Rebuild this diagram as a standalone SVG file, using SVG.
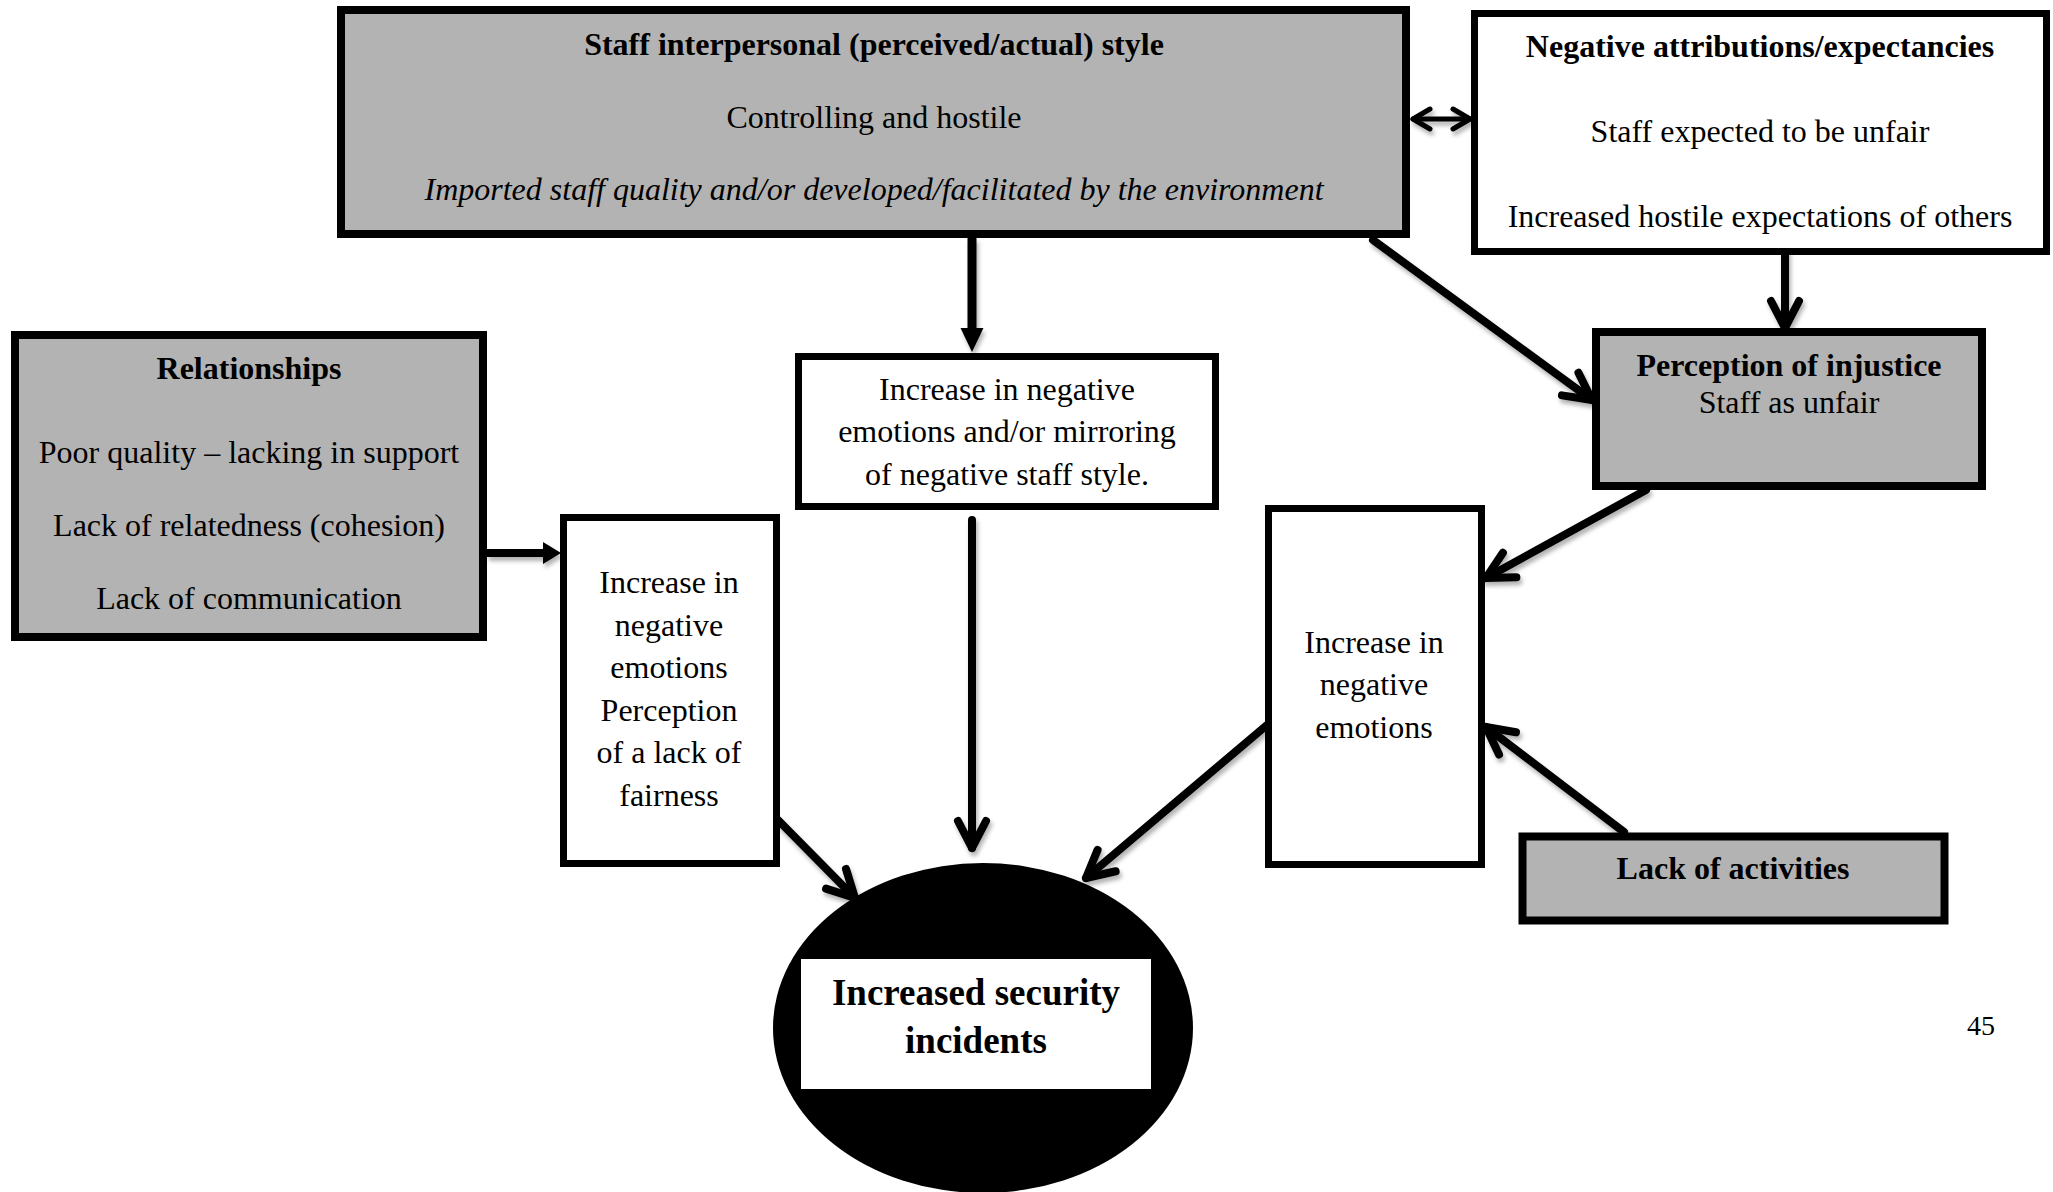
<svg xmlns="http://www.w3.org/2000/svg" width="2053" height="1192" viewBox="0 0 2053 1192">
<style>
  text { font-family: "Liberation Serif", "Times New Roman", serif; font-size: 32px; fill: #000; text-anchor: middle; }
  .b { font-weight: bold; }
  .i { font-style: italic; }
  .grey { fill: #b3b3b3; stroke: #000; stroke-width: 8; }
  .white { fill: #fff; stroke: #000; stroke-width: 7; }
  .conn { fill: none; stroke: #000; stroke-width: 8; stroke-linecap: round; }
</style>
<defs>
  <filter id="sh" filterUnits="userSpaceOnUse" x="0" y="0" width="2053" height="1192">
    <feDropShadow dx="2" dy="4" stdDeviation="2" flood-color="#000" flood-opacity="0.3"/>
  </filter>
  <marker id="v" markerUnits="userSpaceOnUse" markerWidth="60" markerHeight="60" viewBox="-40 -30 60 60" refX="0" refY="0" orient="auto" overflow="visible">
    <path d="M-27,-14 L0,0 L-27,14" fill="none" stroke="#000" stroke-width="8" stroke-linecap="round" stroke-linejoin="round"/>
  </marker>
  <marker id="vs" markerUnits="userSpaceOnUse" markerWidth="40" markerHeight="40" viewBox="-30 -20 40 40" refX="0" refY="0" orient="auto-start-reverse" overflow="visible">
    <path d="M-17,-10 L0,0 L-17,10" fill="none" stroke="#000" stroke-width="5" stroke-linecap="round" stroke-linejoin="round"/>
  </marker>
  <marker id="t" markerUnits="userSpaceOnUse" markerWidth="40" markerHeight="40" viewBox="-10 -20 40 40" refX="0" refY="0" orient="auto" overflow="visible">
    <path d="M0,-11.5 L24,0 L0,11.5 Z" fill="#000"/>
  </marker>
  <marker id="t2" markerUnits="userSpaceOnUse" markerWidth="40" markerHeight="40" viewBox="-10 -20 40 40" refX="0" refY="0" orient="auto" overflow="visible">
    <path d="M0,-11 L18,0 L0,11 Z" fill="#000"/>
  </marker>
</defs>
<rect width="2053" height="1192" fill="#fff"/>

<g id="connectors" filter="url(#sh)">
  <line x1="1413" y1="119" x2="1470" y2="119" style="fill:none;stroke:#000;stroke-width:5;stroke-linecap:round" marker-start="url(#vs)" marker-end="url(#vs)"/>
  <line x1="972" y1="238" x2="972" y2="328" style="fill:none;stroke:#000;stroke-width:9" marker-end="url(#t)"/>
  <line x1="1373" y1="240" x2="1592" y2="400" class="conn" marker-end="url(#v)"/>
  <line x1="1785" y1="252" x2="1785" y2="328" class="conn" marker-end="url(#v)"/>
  <line x1="487" y1="553" x2="543" y2="553" style="fill:none;stroke:#000;stroke-width:8" marker-end="url(#t2)"/>
  <line x1="972" y1="520" x2="972" y2="848" class="conn" marker-end="url(#v)"/>
  <line x1="778" y1="820" x2="855" y2="898" class="conn" marker-end="url(#v)"/>
  <line x1="1267" y1="725" x2="1086" y2="878" class="conn" marker-end="url(#v)"/>
  <line x1="1646" y1="490" x2="1486" y2="578" class="conn" marker-end="url(#v)"/>
  <line x1="1624" y1="832" x2="1486" y2="727" class="conn" marker-end="url(#v)"/>
</g>

<g id="staff-style">
  <rect class="grey" x="341" y="10" width="1065" height="224"/>
  <text class="b" x="874" y="55">Staff interpersonal (perceived/actual) style</text>
  <text x="874" y="128">Controlling and hostile</text>
  <text class="i" x="874" y="200">Imported staff quality and/or developed/facilitated by the environment</text>
</g>

<g id="neg-attributions">
  <rect class="white" x="1474.5" y="13.5" width="572" height="238"/>
  <text class="b" x="1760" y="57">Negative attributions/expectancies</text>
  <text x="1760" y="142">Staff expected to be unfair</text>
  <text x="1760" y="227">Increased hostile expectations of others</text>
</g>

<g id="perception-injustice">
  <rect class="grey" x="1596" y="332" width="386" height="154"/>
  <text class="b" x="1789" y="376">Perception of injustice</text>
  <text x="1789" y="413">Staff as unfair</text>
</g>

<g id="relationships">
  <rect class="grey" x="15" y="335" width="468" height="302"/>
  <text class="b" x="249" y="379">Relationships</text>
  <text x="249" y="463">Poor quality – lacking in support</text>
  <text x="249" y="536">Lack of relatedness (cohesion)</text>
  <text x="249" y="609">Lack of communication</text>
</g>

<g id="mirroring">
  <rect class="white" x="798.5" y="356.5" width="417" height="150"/>
  <text x="1007" y="400">Increase in negative</text>
  <text x="1007" y="442">emotions and/or mirroring</text>
  <text x="1007" y="485">of negative staff style.</text>
</g>

<g id="neg-emotions-fairness">
  <rect class="white" x="563.5" y="517.5" width="213" height="346"/>
  <text x="669" y="593">Increase in</text>
  <text x="669" y="635.5">negative</text>
  <text x="669" y="678">emotions</text>
  <text x="669" y="720.5">Perception</text>
  <text x="669" y="763">of a lack of</text>
  <text x="669" y="805.5">fairness</text>
</g>

<g id="neg-emotions">
  <rect class="white" x="1268.5" y="508.5" width="213" height="356"/>
  <text x="1374" y="653">Increase in</text>
  <text x="1374" y="695">negative</text>
  <text x="1374" y="738">emotions</text>
</g>

<g id="lack-activities">
  <rect class="grey" x="1522.5" y="836.5" width="422" height="84"/>
  <text class="b" x="1733" y="879">Lack of activities</text>
</g>

<g id="security-incidents">
  <ellipse cx="983" cy="1028" rx="210" ry="165" fill="#000"/>
  <rect x="801" y="959" width="350" height="130" fill="#fff"/>
  <text class="b" x="976" y="1005" style="font-size:37px">Increased security</text>
  <text class="b" x="976" y="1053" style="font-size:37px">incidents</text>
</g>

<text x="1981" y="1035" style="font-size:28px">45</text>
</svg>
